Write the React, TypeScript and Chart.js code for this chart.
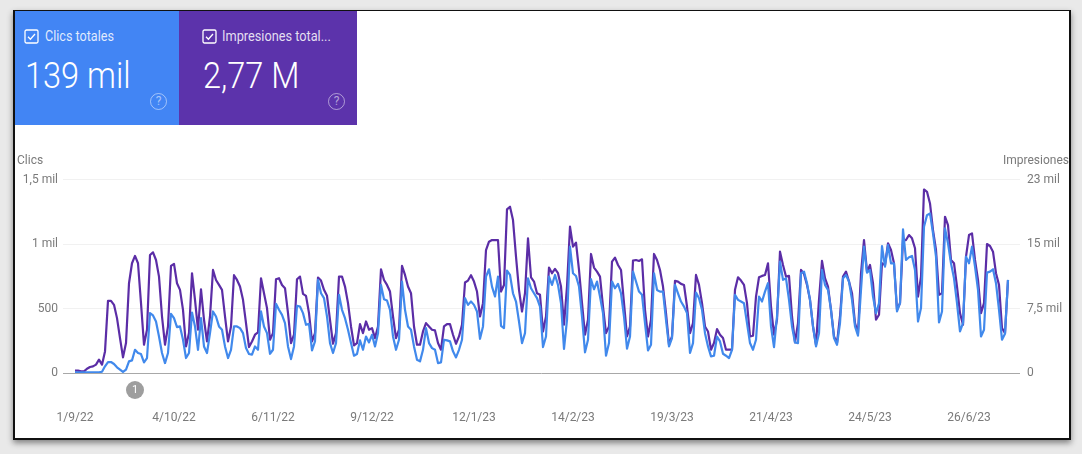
import React, { useEffect, useRef } from "react";
import { Chart, registerables } from "chart.js";

Chart.register(...registerables);

const dayIndex: number[] = Array.from({ length: 312 }, (_, i) => i);

const clicks: number[] = [
  5,5,5,5,5,5,5,5,5,10,52,85,85,70,44,26,8,26,90,98,180,155,147,82,116,
  464,446,399,283,155,77,155,459,425,356,361,258,116,155,469,361,180,425,206,155,309,477,438,361,335,
  206,116,180,361,361,348,309,193,147,142,206,180,477,361,309,149,180,536,490,451,387,206,108,206,521,
  515,464,374,381,175,245,722,618,580,438,232,155,232,606,490,425,335,232,134,147,253,180,283,237,296,
  206,309,683,572,562,490,283,180,258,709,490,361,335,206,103,90,180,348,232,193,180,77,82,258,253,
  245,168,121,180,258,580,528,554,528,477,265,361,747,804,670,593,747,366,348,794,760,618,554,399,232,
  309,734,657,618,580,515,201,283,747,683,760,683,541,186,412,979,773,752,670,438,160,258,727,649,709,
  593,464,134,232,709,657,691,618,438,188,283,786,709,631,606,387,175,219,773,644,631,631,412,206,271,
  683,618,554,515,464,155,232,624,580,490,309,206,129,134,283,245,149,134,116,180,606,567,554,541,387,
  232,180,258,593,554,631,696,361,201,438,863,722,734,567,361,237,232,773,786,696,567,361,206,309,799,
  683,644,490,271,219,387,734,760,709,567,361,289,644,979,778,799,593,464,541,984,825,992,850,850,477,
  541,1113,876,897,907,799,399,503,1134,1224,1237,1082,902,392,477,1121,1005,850,734,541,322,387,902,850,979,
  825,644,283,335,778,786,804,696,490,258,304,722,
];

const impressions: number[] = [
  270,270,190,190,500,700,770,970,1550,970,2510,8390,8390,7930,6380,4060,1820,3480,10440,12760,13610,12760,8120,3290,5030,
  13720,14030,13140,11210,6570,3290,5410,12450,12680,10440,9670,7350,3090,4640,11600,8510,5030,9740,6190,3670,6570,11980,10820,10240,9670,
  6570,3670,5410,11370,10820,10050,8510,5800,3020,3670,4450,4720,11020,9280,7540,3870,4640,10900,11020,10240,9860,6960,3480,4450,10900,
  11210,9200,8970,6960,3670,4640,11100,10750,9670,8970,6190,3400,4640,11210,11210,10050,8120,5410,3210,3480,5680,4640,5990,5030,5220,
  4060,5410,12060,10820,10240,9470,6570,4060,5030,12450,11400,10050,9280,5410,3290,3290,4830,5800,5410,5030,4950,3480,2710,5410,5680,
  5680,4450,3400,4250,5610,10520,10750,11370,10630,9470,6570,8120,14300,15270,15460,15460,15460,9470,10240,19020,19330,17780,13530,9670,7150,
  9280,15660,11130,10630,9280,9090,4830,6570,12260,11600,12100,11600,10050,5610,10050,17010,14690,15150,11980,8120,4450,6190,13840,12260,11790,
  11210,7730,4640,5410,12950,13420,12560,11980,8120,4250,5410,13070,13140,13030,13220,7350,4250,6190,13840,13140,11980,10050,6960,3290,4250,
  10710,10630,10360,10240,7730,4640,5800,11400,10240,8120,5410,4830,2710,3480,5100,4450,4060,2710,2710,2710,9670,11130,10750,10250,8120,
  4250,4330,8890,11130,11290,11400,12760,7730,4450,6190,14110,12560,11210,11290,6570,3560,5800,11980,11520,10250,8510,5410,3290,8510,13030,
  11020,10050,7350,4250,3480,6570,11210,11790,10630,9280,5800,4640,11600,15460,11790,12560,10440,6190,6770,12760,12560,15080,14300,12760,7350,
  8120,15460,15460,16040,15660,14500,8890,11210,21340,21070,19720,16620,14300,9090,9280,18170,17200,13140,12760,10050,6960,5610,13530,16040,16240,
  13140,10820,6960,8120,15000,14770,14110,11600,10250,5220,4640,10800,
];

const xTickDays: number[] = [0, 33, 66, 99, 133, 166, 199, 232, 265, 298];
const xTickLabels: string[] = ["1/9/22", "4/10/22", "6/11/22", "9/12/22", "12/1/23", "14/2/23", "19/3/23", "21/4/23", "24/5/23", "26/6/23"];
const leftTicks: number[] = [0, 500, 1000, 1500];
const leftLabels: string[] = ["0", "500", "1 mil", "1,5 mil"];
const rightTicks: number[] = [0, 7500, 15000, 22500];
const rightLabels: string[] = ["0", "7,5 mil", "15 mil", "23 mil"];

const FONT = "Roboto, sans-serif";

const CheckBox = ({ x, y }: { x: number; y: number }) => (
  <svg width="15" height="15" viewBox="0 0 15 15" style={{ position: "absolute", left: x, top: y }}>
    <rect x="1" y="1" width="13" height="13" rx="1.5" fill="none" stroke="#fff" strokeWidth="1.3" />
    <path d="M4 7.8 L6.4 10.2 L11 5" fill="none" stroke="#fff" strokeWidth="1.3" />
  </svg>
);

const Help = ({ x, y }: { x: number; y: number }) => (
  <div
    style={{
      position: "absolute", left: x, top: y, width: 15, height: 15, borderRadius: "50%",
      border: "1.3px solid rgba(255,255,255,0.5)", color: "rgba(255,255,255,0.55)",
      fontSize: 12, lineHeight: "15px", textAlign: "center", fontFamily: FONT,
    }}
  >
    ?
  </div>
);

const abs = (left: number, top: number, fontSize: number, color: string, sx = 1, weight = 400): React.CSSProperties => ({
  position: "absolute", left, top, fontSize, color, fontFamily: FONT, whiteSpace: "nowrap", lineHeight: 1,
  transform: `scaleX(${sx})`, transformOrigin: "left top", fontWeight: weight,
});

export default function App() {
  const ref = useRef<HTMLCanvasElement>(null);

  useEffect(() => {
    const chart = new Chart(ref.current!, {
      type: "line",
      data: {
        labels: dayIndex,
        datasets: [
          {
            label: "Clics",
            data: dayIndex.map((d, i) => ({ x: d, y: clicks[i] })),
            yAxisID: "y",
            borderColor: "#4189ec",
            borderWidth: 2.2,
            borderJoinStyle: "round",
            pointRadius: 0,
            tension: 0,
            order: 1,
          },
          {
            label: "Impresiones",
            data: dayIndex.map((d, i) => ({ x: d, y: impressions[i] })),
            yAxisID: "y1",
            borderColor: "#5b2da6",
            borderWidth: 2.2,
            borderJoinStyle: "round",
            pointRadius: 0,
            tension: 0,
            order: 2,
          },
        ],
      },
      options: {
        animation: false,
        responsive: false,
        layout: { padding: { top: 179.5 } },
        plugins: { legend: { display: false }, tooltip: { enabled: false } },
        scales: {
          x: {
            type: "linear",
            min: -4,
            max: 315,
            border: { display: false },
            grid: { display: false },
            afterBuildTicks: (s: any) => { s.ticks = xTickDays.map((value) => ({ value })); },
            afterFit: (s: any) => { s.height = 81; },
            ticks: {
              autoSkip: false,
              maxRotation: 0,
              padding: 30,
              color: "#7a7a7a",
              font: { family: FONT, size: 12 },
              callback: (v: any) => xTickLabels[xTickDays.indexOf(Number(v))] ?? "",
            },
          },
          y: {
            type: "linear",
            position: "left",
            min: 0,
            max: 1500,
            border: { display: false },
            grid: {
              drawTicks: false,
              lineWidth: 1,
              color: (c: any) => (c.tick.value === 0 ? "#a8a8a8" : "#f1f1f1"),
            },
            afterBuildTicks: (s: any) => { s.ticks = leftTicks.map((value) => ({ value })); },
            afterFit: (s: any) => { s.width = 63; },
            ticks: {
              padding: 5,
              color: "#7a7a7a",
              font: { family: FONT, size: 12 },
              callback: (v: any) => leftLabels[leftTicks.indexOf(Number(v))] ?? "",
            },
          },
          y1: {
            type: "linear",
            position: "right",
            min: 0,
            max: 22500,
            border: { display: false },
            grid: { display: false, drawTicks: false },
            afterBuildTicks: (s: any) => { s.ticks = rightTicks.map((value) => ({ value })); },
            afterFit: (s: any) => { s.width = 62; },
            ticks: {
              padding: 7,
              color: "#7a7a7a",
              font: { family: FONT, size: 12 },
              callback: (v: any) => rightLabels[rightTicks.indexOf(Number(v))] ?? "",
            },
          },
        },
      },
    } as any);
    return () => chart.destroy();
  }, []);

  return (
    <div style={{ position: "absolute", left: 0, top: 0, width: 1082, height: 454, background: "#e9e9e9", overflow: "hidden" }}>
      <div
        style={{
          position: "absolute", left: 13, top: 10, width: 1058, height: 430, boxSizing: "border-box",
          background: "#fff", border: "1px solid #111", borderWidth: "1px 2px 2px 2px",
          boxShadow: "0 3px 6px rgba(0,0,0,0.45)",
        }}
      />
      <div style={{ position: "absolute", left: 15, top: 11, width: 164, height: 114, background: "#4285f4" }} />
      <div style={{ position: "absolute", left: 179, top: 11, width: 178, height: 114, background: "#5c33ab" }} />
      <CheckBox x={24} y={29} />
      <CheckBox x={202} y={29} />
      <span style={abs(45, 29, 14, "rgba(255,255,255,0.85)", 0.9)}>Clics totales</span>
      <span style={abs(222, 29, 14, "rgba(255,255,255,0.85)", 0.91)}>Impresiones total...</span>
      <span style={abs(25, 57, 37, "#fff", 0.88, 300)}>139 mil</span>
      <span style={abs(203, 57, 37, "#fff", 0.88, 300)}>2,77 M</span>
      <Help x={150} y={93} />
      <Help x={328} y={93} />
      <canvas ref={ref} width={1082} height={454} style={{ position: "absolute", left: 0, top: 0, display: "block", filter: "blur(0.35px)" }} />
      <span style={abs(17, 154, 12, "#7a7a7a")}>Clics</span>
      <span style={abs(1003, 154, 12, "#7a7a7a")}>Impresiones</span>
      <div
        style={{
          position: "absolute", left: 126, top: 381, width: 18, height: 18, borderRadius: "50%",
          background: "#9e9e9e", color: "#fff", fontFamily: FONT, fontSize: 11, lineHeight: "18px", textAlign: "center",
        }}
      >
        1
      </div>
    </div>
  );
}
